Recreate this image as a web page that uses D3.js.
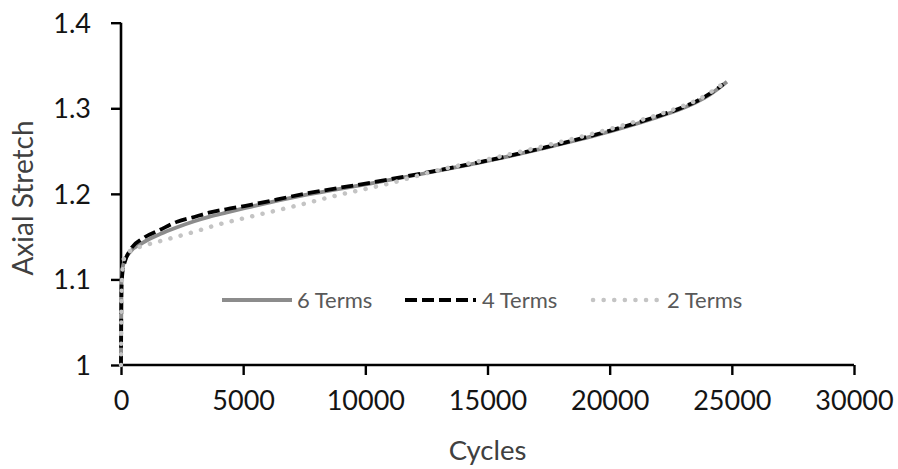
<!DOCTYPE html>
<html>
<head>
<meta charset="utf-8">
<script src="https://cdn.jsdelivr.net/npm/d3@7/dist/d3.min.js"></script>
<style>
  html, body { margin: 0; padding: 0; background: #fff; }
  svg { display: block; }
  text { font-family: Lato, "Open Sans", sans-serif; }
</style>
</head>
<body>
<svg id="chart" width="898" height="469"></svg>
<script>
// Axial stretch vs. loading cycles for three series-expansion fits
const xTicks = [0, 5000, 10000, 15000, 20000, 25000, 30000];
const yTicks = [1, 1.1, 1.2, 1.3, 1.4];
const yTickLabels = ["1", "1.1", "1.2", "1.3", "1.4"];

const seriesNames = ["6 Terms", "4 Terms", "2 Terms"];

const cycles6 = [0, 20, 60, 150, 370, 900, 1600, 2300, 3000, 3600, 4300, 5100, 7600, 10300, 13000, 15000, 17400, 20100, 21000, 22100, 22800, 23500, 24100, 24800];
const stretch6 = [1.0, 1.095, 1.112, 1.122, 1.132, 1.143, 1.153, 1.161, 1.168, 1.173, 1.178, 1.1835, 1.199, 1.2125, 1.227, 1.2385, 1.254, 1.2735, 1.281, 1.291, 1.298, 1.3065, 1.316, 1.331];

const cycles4 = [0, 20, 60, 150, 370, 900, 1600, 2300, 3000, 3600, 4300, 5100, 7600, 10300, 13000, 15000, 17400, 20100, 21000, 22100, 22800, 23500, 24100, 24650];
const stretch4 = [1.0, 1.09, 1.108, 1.12, 1.134, 1.148, 1.158, 1.1675, 1.173, 1.178, 1.182, 1.186, 1.2005, 1.2135, 1.2275, 1.239, 1.2545, 1.2745, 1.282, 1.292, 1.299, 1.3075, 1.317, 1.328];

const cycles2 = [0, 20, 60, 160, 500, 1000, 1900, 3100, 3900, 5100, 6900, 8900, 11000, 13000, 15000, 17400, 20100, 21000, 22100, 22800, 23500, 24100, 24650];
const stretch2 = [1.0, 1.08, 1.11, 1.128, 1.135, 1.14, 1.147, 1.1565, 1.1635, 1.172, 1.1842, 1.1986, 1.2123, 1.2278, 1.2403, 1.2565, 1.2765, 1.284, 1.2935, 1.3005, 1.3085, 1.318, 1.329];

const svg = d3.select("#chart");
const W = 898, H = 469;
svg.append("rect").attr("width", W).attr("height", H).attr("fill", "#fff");

const plot = { left: 121, right: 854, top: 22.7, bottom: 365 };

const x = d3.scaleLinear().domain([0, 30000]).range([plot.left, plot.right]);
const y = d3.scaleLinear().domain([1, 1.4]).range([plot.bottom, plot.top]);

// Axes
const xAxis = d3.axisBottom(x).tickValues(xTicks).tickSize(10).tickPadding(8).tickFormat(d3.format("d"));
const yAxis = d3.axisLeft(y).tickValues(yTicks).tickSize(10).tickPadding(20)
  .tickFormat((d, i) => yTickLabels[i]);

const gx = svg.append("g").attr("transform", `translate(0,${plot.bottom})`).call(xAxis);
const gy = svg.append("g").attr("transform", `translate(${plot.left},0)`).call(yAxis);

[gx, gy].forEach(g => {
  g.select(".domain").attr("stroke", "#000").attr("stroke-width", 2.6);
  g.selectAll(".tick line").attr("stroke", "#000").attr("stroke-width", 2.4);
  g.selectAll(".tick text").attr("fill", "#141414").style("font-size", "27px")
    .style("font-family", "Lato, 'Open Sans', sans-serif");
});
// flat domain ends (no outer tick hooks)
gx.select(".domain").attr("d", `M${plot.left},0H${plot.right}`);
gy.select(".domain").attr("d", `M0,${plot.bottom}V${plot.top}`);
gx.selectAll(".tick text").attr("dy", "0.71em").attr("y", 26);
gy.selectAll(".tick text").attr("dy", "0.35em");

// Axis titles
svg.append("text")
  .attr("x", (plot.left + plot.right) / 2).attr("y", 460)
  .attr("text-anchor", "middle").attr("fill", "#404040")
  .style("font-size", "27.5px").text("Cycles");
svg.append("text")
  .attr("transform", `translate(33,198) rotate(-90)`)
  .attr("text-anchor", "middle").attr("fill", "#404040")
  .style("font-size", "28px").text("Axial Stretch");

// Series
const styles = [
  { stroke: "#8c8c8c", width: 3.8, dash: null, cap: "butt" },
  { stroke: "#000000", width: 3.8, dash: "12 5", cap: "butt" },
  { stroke: "#c4c4c4", width: 4.5, dash: "0.1 10.5", cap: "round" }
];
const seriesData = [
  d3.zip(cycles6, stretch6),
  d3.zip(cycles4, stretch4),
  d3.zip(cycles2, stretch2)
];

const line = d3.line()
  .x(d => x(d[0]))
  .y(d => y(d[1]))
  .curve(d3.curveMonotoneX);

seriesData.forEach((data, i) => {
  const s = styles[i];
  const p = svg.append("path")
    .attr("d", line(data))
    .attr("fill", "none")
    .attr("stroke", s.stroke)
    .attr("stroke-width", s.width)
    .attr("stroke-linecap", s.cap)
    .attr("stroke-linejoin", "round");
  if (s.dash) p.attr("stroke-dasharray", s.dash);
});

// Legend
const legendY = 300;
const legendItems = [
  { x0: 222, x1: 292, tx: 297 },
  { x0: 405, x1: 476, tx: 482 },
  { x0: 593, x1: 661, tx: 667 }
];
legendItems.forEach((it, i) => {
  const s = styles[i];
  const l = svg.append("line")
    .attr("x1", it.x0).attr("x2", it.x1)
    .attr("y1", legendY).attr("y2", legendY)
    .attr("stroke", s.stroke)
    .attr("stroke-width", s.width)
    .attr("stroke-linecap", s.cap);
  if (s.dash) l.attr("stroke-dasharray", s.dash);
  svg.append("text")
    .attr("x", it.tx).attr("y", legendY).attr("dy", "0.36em")
    .attr("fill", "#595959")
    .style("font-size", "22px")
    .text(seriesNames[i]);
});
</script>
</body>
</html>
